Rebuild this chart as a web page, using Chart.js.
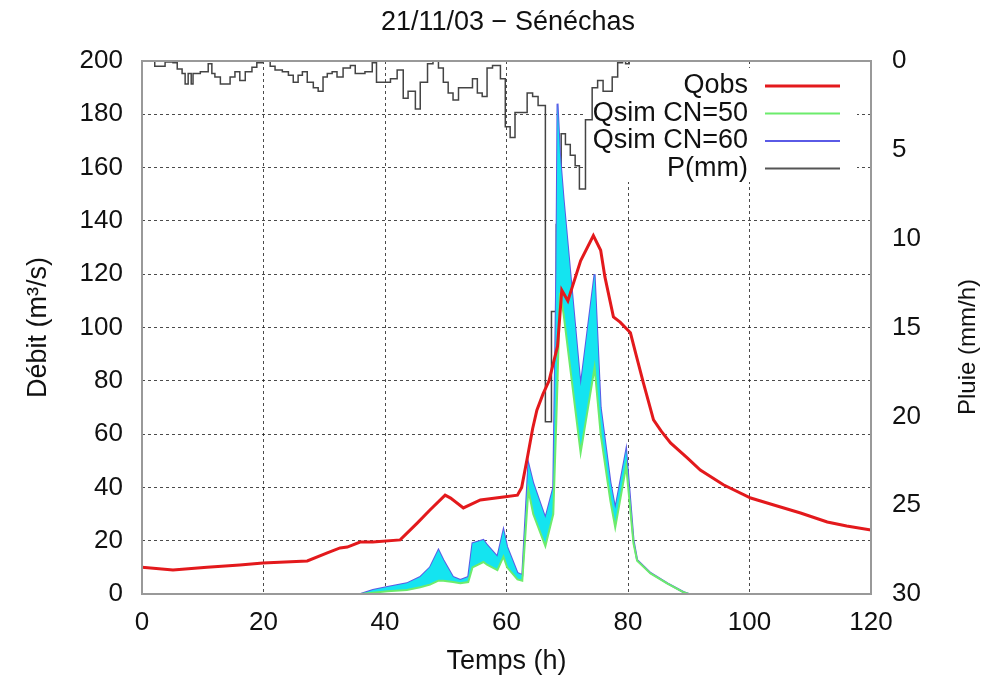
<!DOCTYPE html>
<html>
<head>
<meta charset="UTF-8">
<title>21/11/03 - Sénéchas</title>
<script src="https://cdn.jsdelivr.net/npm/chart.js@4.4.1/dist/chart.umd.min.js"></script>
<style>
  html, body { margin: 0; padding: 0; background: #fff; }
</style>
</head>
<body>
<canvas id="myChart" width="986" height="678"></canvas>
<script>
// observed discharge (m3/s)
var tObs = [0, 5.1, 10.7, 16.1, 19.9, 27.2, 30.5, 32.6, 33.8, 35.9, 38, 42.5, 45.3, 47.4, 49.9, 50.8, 52.9, 55.7, 59.5, 61.8,
  62.5, 63.5, 64.3, 65, 66, 67, 68.4, 69.1, 70.1, 72.2, 74.3, 75.5, 76.2, 77.6, 78.7, 80.4, 81.3, 82.5, 84.2, 85.5,
  87, 89.8, 91.9, 95.7, 100.2, 104, 108.4, 112.8, 116, 120];
var qObs = [10, 9, 10, 10.9, 11.6, 12.4, 15.4, 17.3, 17.6, 19.5, 19.5, 20.3, 26.6, 31.5, 37.1, 36, 32.3, 35.3, 36.4, 37.1,
  40, 52, 62, 69, 75, 80, 93, 114, 110, 125, 134.5, 129, 119, 104, 102, 98, 90, 79.5, 65.3, 61,
  56.7, 51, 46.5, 41, 36, 33.4, 30.4, 27, 25.5, 24];

// simulated discharge, CN=50 and CN=60
var tSim = [0, 36, 38, 40.4, 43.6, 45.8, 47.4, 48.8, 49.6, 51.2, 52.4, 53.7, 54.4, 56.2, 56.8, 58.5, 59.5, 60.1, 61.8, 62.6,
  63.6, 64.4, 66.4, 67.7, 68.2, 68.4, 68.8, 69.4, 72.2, 74.5, 75.5, 77.1, 77.9, 79.7, 80.9, 81.5, 83.7, 86.5, 89.1, 90];
var qSim50 = [0, 0, 0.5, 1, 1.5, 2.5, 3.5, 5, 5, 4.5, 4, 4.5, 10, 12, 11, 9, 14, 10, 5.5, 5,
  39, 30, 18, 30, 65, 80, 113, 105, 53, 85, 60, 35, 25, 48, 19, 12.5, 7.7, 3.9, 0.7, 0];
var qSim60 = [0, 0, 1.5, 2.6, 4, 6.4, 10, 16.5, 12.8, 6.4, 5.3, 6.4, 19, 20.3, 18.4, 14, 24, 17.7, 7.9, 7.1,
  49, 41.6, 28.5, 40, 120, 184, 165, 148, 78, 120, 70, 42, 32, 54, 20.3, 12.8, 7.9, 4, 0.75, 0];

// rainfall (mm/h), step starts
var tRain = [0, 2.1, 3.8, 5.1, 5.8, 6.6, 7.1, 7.6, 8.1, 8.4, 9.6, 10.9, 11.5, 12.0, 12.9, 14.5, 15.3, 16.1, 17.0, 18.1,
  18.9, 19.8, 21.1, 21.9, 23.1, 24.1, 24.9, 25.7, 26.4, 27.2, 28.2, 29.0, 29.8, 30.5, 31.3, 32.1, 33.1, 34.3, 35.1, 36.7,
  37.9, 38.6, 40.9, 42.0, 43.0, 43.8, 45.0, 45.8, 47.0, 47.9, 48.8, 49.6, 50.4, 51.2, 52.1, 54.4, 55.2, 56.0, 56.8, 57.7,
  59.0, 59.8, 60.6, 61.4, 63.4, 64.3, 65.2, 66.4, 67.4, 68.2, 69.0, 69.7, 70.5, 71.3, 72.0, 73.0, 74.1, 75.0, 75.9, 77.4,
  78.3, 79.1, 79.6, 80.2, 83];
var pRain = [0, 0.3, 0.05, 0.1, 0.45, 0.7, 1.3, 0.7, 1.3, 0.7, 0.6, 0.15, 0.7, 0.9, 1.3, 0.9, 0.6, 1.1, 0.6, 0.35,
  0.1, 0, 0.3, 0.5, 0.6, 0.8, 1.2, 0.8, 0.6, 1.2, 1.5, 1.7, 0.9, 0.7, 0.6, 0.9, 0.4, 0.25, 0.7, 0.6,
  0.1, 1.2, 1.0, 0.5, 2.1, 1.7, 2.7, 1.2, 0.15, 0, 0.4, 1.2, 1.8, 2.2, 1.5, 1.0, 1.8, 2.0, 0.4, 0.25,
  1.0, 3.7, 4.3, 2.9, 1.8, 2.0, 2.5, 20.3, 14.1, 9.2, 4.1, 4.7, 5.3, 5.9, 7.2, 3.3, 1.5, 1.1, 1.7, 0.9,
  0.1, 0, 0.15, 0, 0];

var legendItems = [
  {text: 'Qobs', color: '#e3191c', width: 3},
  {text: 'Qsim CN=50', color: '#6cec6c', width: 2},
  {text: 'Qsim CN=60', color: '#5a5ae6', width: 2},
  {text: 'P(mm)', color: '#555', width: 2}
];

function pts(t, v) {
  return t.map(function(x, i) { return {x: x, y: v[i]}; });
}

var FONT = 'Liberation Sans, Arial, sans-serif';

var extras = {
  id: 'extras',
  beforeDatasetsDraw: function(chart) {
    // key area hides the grid behind it
    var ctx = chart.ctx;
    ctx.save();
    ctx.fillStyle = '#fff';
    ctx.fillRect(585, 68, 272, 114);
    ctx.restore();
  },
  afterDraw: function(chart) {
    var ctx = chart.ctx, a = chart.chartArea;
    ctx.save();
    ctx.strokeStyle = '#999';
    ctx.lineWidth = 2;
    ctx.strokeRect(a.left, a.top, a.right - a.left, a.bottom - a.top);

    ctx.fillStyle = '#111';
    ctx.font = '27px ' + FONT;
    ctx.textAlign = 'center';
    ctx.textBaseline = 'middle';
    ctx.fillText('21/11/03 \u2212 Sénéchas', 508, 23);

    ctx.save();
    ctx.font = '24px ' + FONT;
    ctx.translate(968, 347);
    ctx.rotate(-Math.PI / 2);
    ctx.fillText('Pluie (mm/h)', 0, 0);
    ctx.restore();

    ctx.textAlign = 'right';
    legendItems.forEach(function(it, i) {
      var y = 86 + i * 27.5;
      ctx.fillStyle = '#111';
      ctx.fillText(it.text, 748, y);
      ctx.strokeStyle = it.color;
      ctx.lineWidth = it.width;
      ctx.beginPath();
      ctx.moveTo(765, y);
      ctx.lineTo(840, y);
      ctx.stroke();
    });
    ctx.restore();
  }
};

var gridStyle = {color: 'rgba(30,30,30,0.8)', lineWidth: 1, drawTicks: false};

var chart = new Chart(document.getElementById('myChart').getContext('2d'), {
  type: 'line',
  data: {
    datasets: [
      {label: 'Qobs', data: pts(tObs, qObs), borderColor: '#e3191c', borderWidth: 3,
        pointRadius: 0, fill: false, yAxisID: 'y'},
      {label: 'Qsim CN=50', data: pts(tSim, qSim50), borderColor: '#6cec6c', borderWidth: 2,
        pointRadius: 0, fill: '+1', backgroundColor: 'rgb(20,228,240)', yAxisID: 'y'},
      {label: 'Qsim CN=60', data: pts(tSim, qSim60), borderColor: '#5a5ae6', borderWidth: 2,
        pointRadius: 0, fill: false, yAxisID: 'y'},
      {label: 'P(mm)', data: pts(tRain, pRain), borderColor: '#444', borderWidth: 1.5,
        pointRadius: 0, fill: false, stepped: 'before', yAxisID: 'y2'}
    ]
  },
  options: {
    responsive: false,
    animation: false,
    devicePixelRatio: 1,
    layout: {padding: {top: 61, left: 0, right: 0, bottom: 0}},
    plugins: {legend: {display: false}, title: {display: false}, tooltip: {enabled: false}},
    scales: {
      x: {
        type: 'linear', min: 0, max: 120,
        ticks: {stepSize: 20, padding: 13, maxRotation: 0, color: '#111', font: {size: 26, family: FONT}},
        grid: gridStyle,
        border: {display: false, dash: [3, 3]},
        title: {display: true, text: 'Temps (h)', color: '#111', font: {size: 27, family: FONT}, padding: {top: 0, bottom: 0}},
        afterFit: function(s) { s.height = 84; }
      },
      y: {
        position: 'left', min: 0, max: 200,
        ticks: {stepSize: 20, padding: 19, color: '#111', font: {size: 26, family: FONT}},
        grid: gridStyle,
        border: {display: false, dash: [3, 3]},
        title: {display: true, text: 'Débit (m³/s)', color: '#111', font: {size: 27, family: FONT}, padding: {top: 22, bottom: 0}},
        afterFit: function(s) { s.width = 142; }
      },
      y2: {
        position: 'right', min: 0, max: 30, reverse: true,
        ticks: {stepSize: 5, padding: 21, color: '#111', font: {size: 26, family: FONT}},
        grid: {drawOnChartArea: false, drawTicks: false},
        border: {display: false},
        afterFit: function(s) { s.width = 115; }
      }
    }
  },
  plugins: [extras]
});
</script>
</body>
</html>
